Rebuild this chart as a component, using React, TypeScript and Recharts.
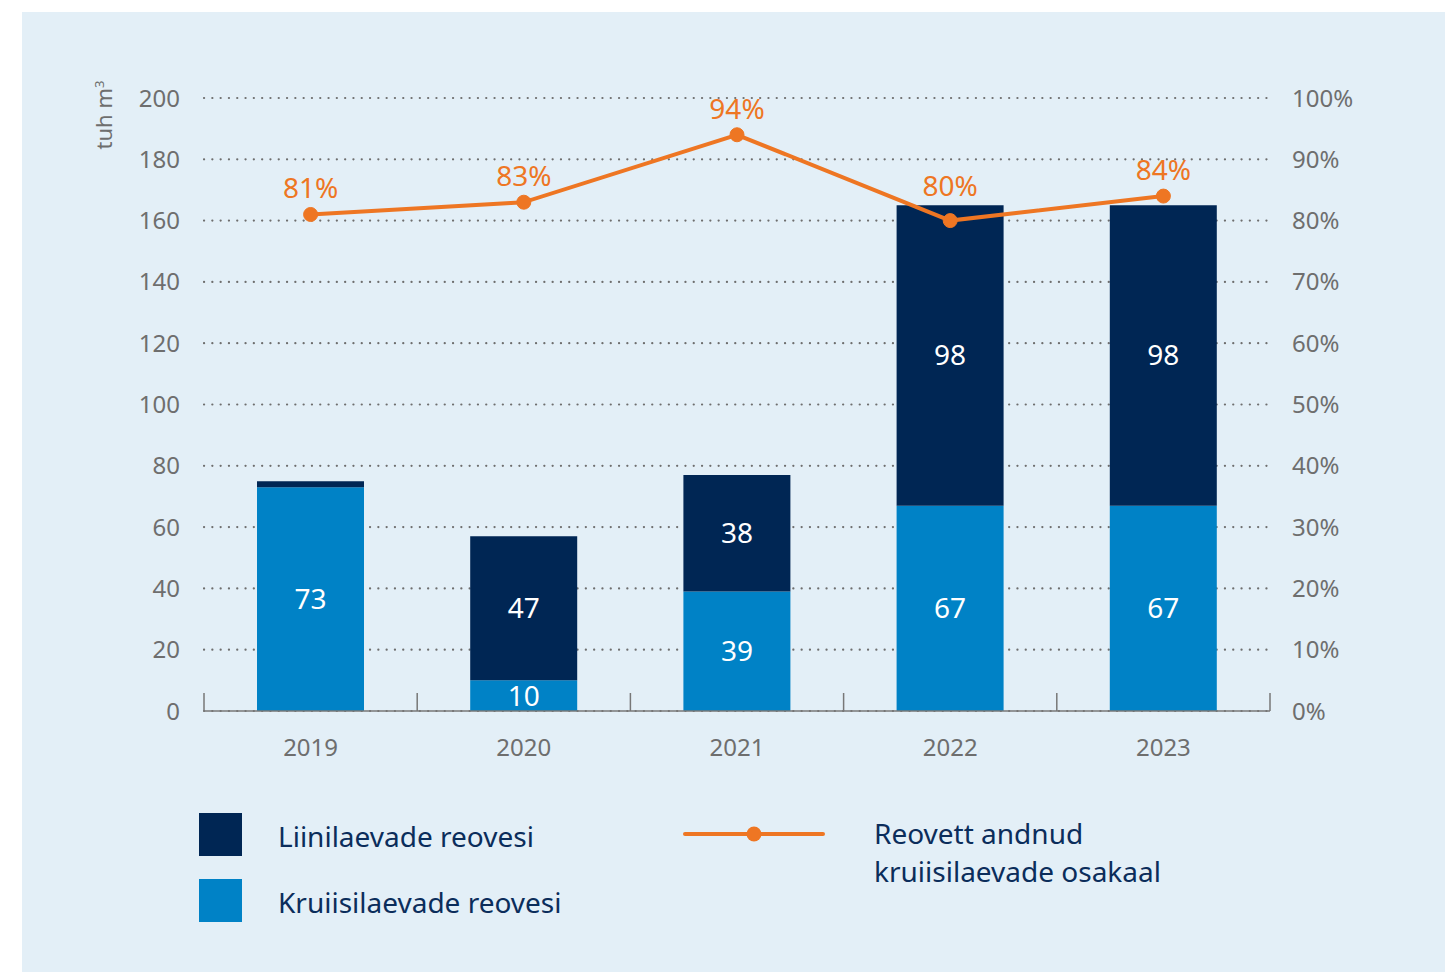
import { ComposedChart, Bar, Line, XAxis, YAxis, CartesianGrid, LabelList } from 'recharts'

const years = ['2019', '2020', '2021', '2022', '2023']
const kruiisiReovesi = [73, 10, 39, 67, 67]
const liiniReovesi = [2, 47, 38, 98, 98]
const kruiisiOsakaal = [81, 83, 94, 80, 84]
const leftTicks = [0, 20, 40, 60, 80, 100, 120, 140, 160, 180, 200]
const rightTicks = [0, 10, 20, 30, 40, 50, 60, 70, 80, 90, 100]

const NAVY = '#002654'
const BLUE = '#0082C6'
const ORANGE = '#EE7623'
const GREY = '#6e6e6e'
const TEXT = '#0b2d5b'
const FONT = '"Noto Sans", "Open Sans", sans-serif'

const CHART_W = 1423
const LEFT_W = 182
const RIGHT_W = 175
const BAND = (CHART_W - LEFT_W - RIGHT_W) / years.length

const data = years.map((year, i) => ({
  year,
  kruiisi: kruiisiReovesi[i],
  liini: liiniReovesi[i],
  osakaal: kruiisiOsakaal[i],
}))

const YearTick = (props: any) => {
  const { x, y, payload, index } = props
  const half = BAND / 2
  return (
    <g>
      <line x1={x - half} x2={x - half} y1={y - 18} y2={y} stroke="#777" strokeWidth={1.5} />
      {index === years.length - 1 && (
        <line x1={x + half} x2={x + half} y1={y - 18} y2={y} stroke="#777" strokeWidth={1.5} />
      )}
      <text x={x} y={y + 35} textAnchor="middle" dominantBaseline="central" fill={GREY} fontSize={24} fontFamily={FONT}>
        {payload.value}
      </text>
    </g>
  )
}

// percentage label above each point; the 2022 one sits a bit higher, clear of the bar top
const PctLabel = (props: any) => {
  const { x, y, value, index } = props
  const lift = index === 3 ? 36 : 27
  return (
    <text x={x} y={y - lift} textAnchor="middle" dominantBaseline="central" fill={ORANGE} fontSize={28} fontFamily={FONT}>
      {`${value}%`}
    </text>
  )
}

const hideSmall = (v: any) => (v > 5 ? v : '')

export default function App() {
  return (
    <div style={{ position: 'fixed', left: 22, top: 12, width: CHART_W, height: 960, background: '#E3EFF7', fontFamily: FONT }}>
      <ComposedChart width={CHART_W} height={790} data={data} margin={{ top: 86, right: 0, left: 0, bottom: 0 }}>
        <CartesianGrid
          yAxisId="left"
          vertical={false}
          stroke={GREY}
          strokeWidth={2.2}
          strokeDasharray="0.1 8.2"
          strokeLinecap="round"
        />
        <XAxis
          dataKey="year"
          height={91}
          tickLine={false}
          tickSize={0}
          tickMargin={0}
          axisLine={{ stroke: '#777', strokeWidth: 1.5 }}
          tick={<YearTick />}
          interval={0}
        />
        <YAxis
          yAxisId="left"
          width={LEFT_W}
          domain={[0, 200]}
          ticks={leftTicks}
          axisLine={false}
          tickLine={false}
          tickSize={6}
          tickMargin={18}
          tick={{ fill: GREY, fontSize: 24, fontFamily: FONT }}
        />
        <YAxis
          yAxisId="right"
          orientation="right"
          width={RIGHT_W}
          domain={[0, 100]}
          ticks={rightTicks}
          axisLine={false}
          tickLine={false}
          tickSize={6}
          tickMargin={16}
          tickFormatter={(v: number) => `${v}%`}
          tick={{ fill: GREY, fontSize: 24, fontFamily: FONT, textAnchor: 'start' }}
        />
        <Bar yAxisId="left" dataKey="kruiisi" stackId="a" fill={BLUE} barSize={107} isAnimationActive={false}>
          <LabelList dataKey="kruiisi" position="center" fill="#fff" fontSize={28} fontFamily={FONT} />
        </Bar>
        <Bar yAxisId="left" dataKey="liini" stackId="a" fill={NAVY} barSize={107} isAnimationActive={false}>
          <LabelList dataKey="liini" position="center" fill="#fff" fontSize={28} fontFamily={FONT} formatter={hideSmall} />
        </Bar>
        <Line
          yAxisId="right"
          dataKey="osakaal"
          stroke={ORANGE}
          strokeWidth={4}
          dot={{ r: 7, fill: ORANGE, stroke: ORANGE, strokeWidth: 1 }}
          activeDot={false}
          isAnimationActive={false}
        >
          <LabelList dataKey="osakaal" content={<PctLabel />} />
        </Line>
      </ComposedChart>

      <div
        style={{
          position: 'absolute',
          left: 81,
          top: 103,
          transform: 'translate(-50%, -50%) rotate(-90deg)',
          color: GREY,
          fontSize: 22,
          whiteSpace: 'nowrap',
        }}
      >
        tuh m<sup style={{ fontSize: 13 }}>3</sup>
      </div>

      <div style={{ position: 'absolute', left: 177, top: 801, width: 43, height: 43, background: NAVY }} />
      <div style={{ position: 'absolute', left: 256, top: 824, transform: 'translateY(-50%)', color: TEXT, fontSize: 28, whiteSpace: 'nowrap' }}>
        Liinilaevade reovesi
      </div>
      <div style={{ position: 'absolute', left: 177, top: 867, width: 43, height: 43, background: BLUE }} />
      <div style={{ position: 'absolute', left: 256, top: 890, transform: 'translateY(-50%)', color: TEXT, fontSize: 28, whiteSpace: 'nowrap' }}>
        Kruiisilaevade reovesi
      </div>

      <svg style={{ position: 'absolute', left: 660, top: 810 }} width={145} height={24}>
        <line x1={3} x2={141} y1={12} y2={12} stroke={ORANGE} strokeWidth={4} strokeLinecap="round" />
        <circle cx={72} cy={12} r={7.5} fill={ORANGE} />
      </svg>
      <div style={{ position: 'absolute', left: 852, top: 840, transform: 'translateY(-50%)', color: TEXT, fontSize: 28, lineHeight: '38px' }}>
        Reovett andnud
        <br />
        kruiisilaevade osakaal
      </div>
    </div>
  )
}
